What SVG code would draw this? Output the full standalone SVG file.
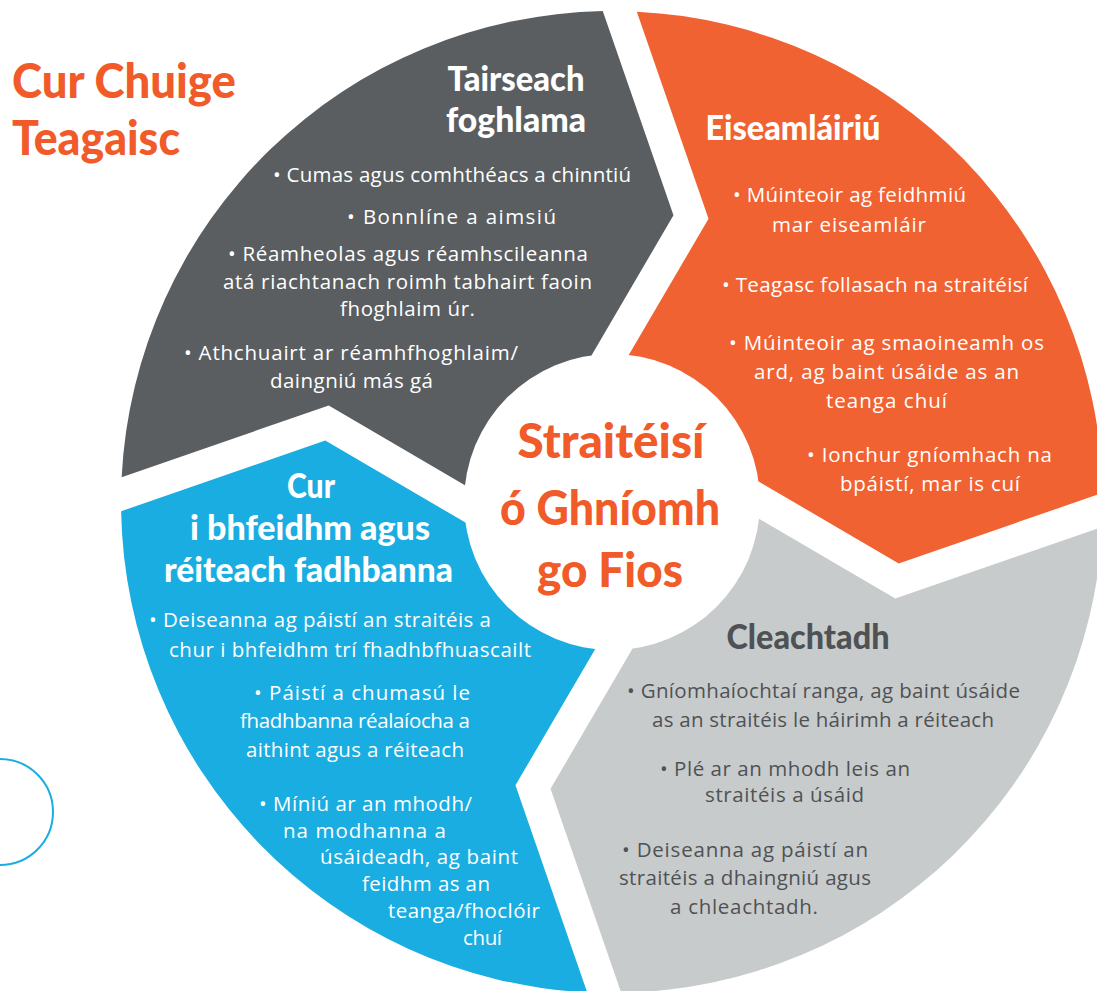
<svg xmlns="http://www.w3.org/2000/svg" width="1097" height="991" viewBox="0 0 1097 991">
<style>
.body{font-family:"Open Sans","Noto Sans",sans-serif;font-size:20.5px;text-anchor:middle}
.hd{font-family:Lato,"Open Sans",sans-serif;font-weight:900;font-size:35px;text-anchor:middle}
.w{fill:#ffffff}
.dk{fill:#4f5254}
.or{fill:#f15a29}
</style>
<defs>
<path id="seg" d="M -490.37 -24.81 A 491 491 0 0 1 -9.25 -490.9 L 61.47 -286.72 L -13.81 -158.08 L -34 -123.6 L 0 0 L -124.7 -3.7 L -141.92 -13.81 L -283.28 -96.53 Z"/>
</defs>
<rect width="1097" height="991" fill="#ffffff"/>

<g id="title">
<text class="hd or" x="12" y="98" style="text-anchor:start;font-size:48px" textLength="224" lengthAdjust="spacingAndGlyphs">Cur Chuige</text>
<text class="hd or" x="12" y="155" style="text-anchor:start;font-size:48px" textLength="168" lengthAdjust="spacingAndGlyphs">Teagaisc</text>
</g>

<g id="deco-circle">
<circle cx="0" cy="812" r="53" fill="none" stroke="#1aade1" stroke-width="2"/>
</g>

<g id="node-tairseach">
<use href="#seg" transform="translate(612 502)" fill="#5a5e61"/>
<text class="hd w" x="516" y="91" textLength="137" lengthAdjust="spacingAndGlyphs">Tairseach</text>
<text class="hd w" x="516" y="132" textLength="140" lengthAdjust="spacingAndGlyphs">foghlama</text>
<text class="body w" x="452" y="182" textLength="358">• Cumas agus comhthéacs a chinntiú</text>
<text class="body w" x="451.5" y="224" textLength="209">• Bonnlíne a aimsiú</text>
<text class="body w" x="408" y="261" textLength="360">• Réamheolas agus réamhscileanna</text>
<text class="body w" x="407.5" y="289" textLength="369">atá riachtanach roimh tabhairt faoin</text>
<text class="body w" x="407.5" y="316" textLength="135">fhoghlaim úr.</text>
<text class="body w" x="351" y="360" textLength="334">• Athchuairt ar réamhfhoghlaim/</text>
<text class="body w" x="351.5" y="388" textLength="163">daingniú más gá</text>
</g>

<g id="node-eiseamlairiu">
<use href="#seg" transform="translate(612 502) rotate(90)" fill="#f16232"/>
<text class="hd w" x="793" y="140" textLength="175" lengthAdjust="spacingAndGlyphs">Eiseamláiriú</text>
<text class="body w" x="849.5" y="202" textLength="233">• Múinteoir ag feidhmiú</text>
<text class="body w" x="849" y="232" textLength="154">mar eiseamláir</text>
<text class="body w" x="875" y="292" textLength="306">• Teagasc follasach na straitéisí</text>
<text class="body w" x="886.5" y="350" textLength="315">• Múinteoir ag smaoineamh os</text>
<text class="body w" x="886.5" y="379" textLength="265">ard, ag baint úsáide as an</text>
<text class="body w" x="886.5" y="408" textLength="121">teanga chuí</text>
<text class="body w" x="929.5" y="462" textLength="245">• Ionchur gníomhach na</text>
<text class="body w" x="930" y="491" textLength="180">bpáistí, mar is cuí</text>
</g>

<g id="node-cleachtadh">
<use href="#seg" transform="translate(612 502) rotate(180)" fill="#c8cbcc"/>
<text class="hd dk" x="808" y="649" textLength="163" lengthAdjust="spacingAndGlyphs">Cleachtadh</text>
<text class="body dk" x="823.5" y="698" textLength="393">• Gníomhaíochtaí ranga, ag baint úsáide</text>
<text class="body dk" x="823" y="727" textLength="342">as an straitéis le háirimh a réiteach</text>
<text class="body dk" x="785" y="776" textLength="250">• Plé ar an mhodh leis an</text>
<text class="body dk" x="784.5" y="802" textLength="159">straitéis a úsáid</text>
<text class="body dk" x="745" y="857" textLength="246">• Deiseanna ag páistí an</text>
<text class="body dk" x="745" y="885" textLength="252">straitéis a dhaingniú agus</text>
<text class="body dk" x="744" y="914" textLength="148">a chleachtadh.</text>
</g>

<g id="node-cur-i-bhfeidhm">
<use href="#seg" transform="translate(612 502) rotate(270)" fill="#1aade1"/>
<text class="hd w" x="311" y="498" textLength="48" lengthAdjust="spacingAndGlyphs">Cur</text>
<text class="hd w" x="310" y="540" textLength="240" lengthAdjust="spacingAndGlyphs">i bhfeidhm agus</text>
<text class="hd w" x="308.5" y="582" textLength="289" lengthAdjust="spacingAndGlyphs">réiteach fadhbanna</text>
<text class="body w" x="320" y="627" textLength="342">• Deiseanna ag páistí an straitéis a</text>
<text class="body w" x="350" y="657" textLength="362">chur i bhfeidhm trí fhadhbfhuascailt</text>
<text class="body w" x="362" y="700" textLength="216">• Páistí a chumasú le</text>
<text class="body w" x="355" y="728" textLength="230">fhadhbanna réalaíocha a</text>
<text class="body w" x="355" y="757" textLength="218">aithint agus a réiteach</text>
<text class="body w" x="365.5" y="811" textLength="213">• Míniú ar an mhodh/</text>
<text class="body w" x="364.5" y="838" textLength="163">na modhanna a</text>
<text class="body w" x="419" y="864" textLength="198">úsáideadh, ag baint</text>
<text class="body w" x="426" y="891" textLength="128">feidhm as an</text>
<text class="body w" x="464" y="918" textLength="152">teanga/fhoclóir</text>
<text class="body w" x="482.5" y="945" textLength="39">chuí</text>
</g>

<g id="node-center">
<circle cx="612" cy="502" r="148" fill="#ffffff"/>
<text class="hd or" x="611" y="458" style="font-size:48px" textLength="187" lengthAdjust="spacingAndGlyphs">Straitéisí</text>
<text class="hd or" x="610" y="525" style="font-size:48px" textLength="220" lengthAdjust="spacingAndGlyphs">ó Ghníomh</text>
<text class="hd or" x="610" y="587" style="font-size:48px" textLength="146" lengthAdjust="spacingAndGlyphs">go Fios</text>
</g>

<g id="connectors"/>
</svg>
